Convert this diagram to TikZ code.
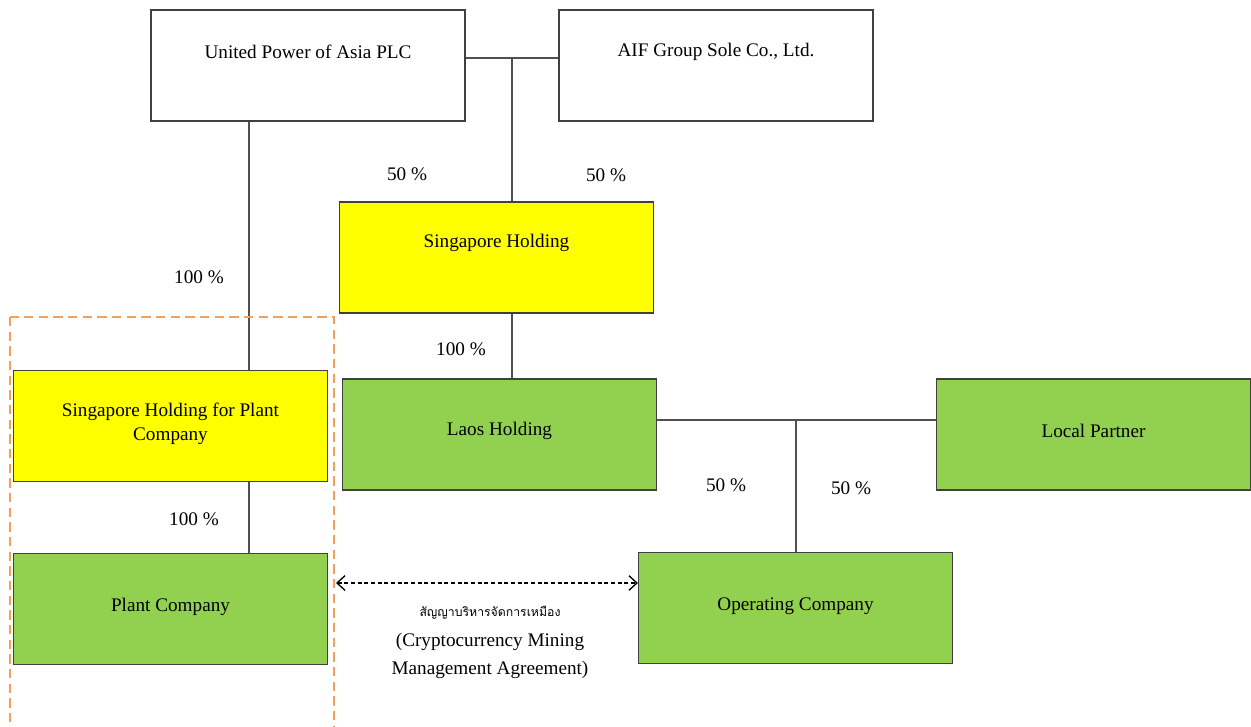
\documentclass[tikz,border=0pt]{standalone}
\usepackage{fontspec}
\setmainfont{Liberation Serif}
\newfontfamily\thaifont[Script=Thai]{Loma}
\usetikzlibrary{arrows.meta,calc}
\definecolor{ygold}{HTML}{FFFF00}
\definecolor{lgreen}{HTML}{92D050}
\definecolor{bordr}{HTML}{404040}
\definecolor{linec}{HTML}{505050}
\definecolor{orng}{HTML}{F4A05A}
\begin{document}
\begin{tikzpicture}[x=0.75pt,y=-0.75pt,
  box/.style={draw=bordr,line width=0.9pt,minimum width=314*0.75pt,minimum height=111*0.75pt,inner sep=0pt},
  wbox/.style={box,fill=white},
  ybox/.style={box,fill=ygold},
  gbox/.style={box,fill=lgreen},
  txt/.style={font=\fontsize{14.4}{18}\selectfont,inner sep=0pt,align=center},
  pct/.style={font=\fontsize{14.4}{18}\selectfont,inner sep=0pt},
  conn/.style={draw=linec,line width=0.9pt}]
\useasboundingbox (0,0) rectangle (1251,727);
\clip (0,0) rectangle (1251,727);
% boxes
\node[wbox] (upa) at (308,65.5) {};
\node[wbox] (aif) at (716,65.5) {};
\node[ybox] (sh) at (496.5,257.5) {};
\node[gbox] (laos) at (499.5,434.5) {};
\node[gbox] (local) at (1093.5,434.5) {};
\node[ybox] (shpc) at (170.5,426) {};
\node[gbox] (plant) at (170.5,609) {};
\node[gbox] (op) at (795.5,608) {};
% texts
\node[txt] (upaT) at (308,52) {United Power of Asia PLC};
\node[txt] (aifT) at (716,52) {AIF Group Sole Co., Ltd.};
\node[txt] (shT) at (496.5,243) {Singapore Holding};
\node[txt] (laosT) at (499.5,431) {Laos Holding};
\node[txt] (localT) at (1093.5,431) {Local Partner};
\node[txt] (shpcT) at (170.5,424) {Singapore Holding for Plant\\Company};
\node[txt] (plantT) at (170.5,607) {Plant Company};
\node[txt] (opT) at (795.5,606) {Operating Company};
% connectors
\coordinate (j1) at (512,58);
\draw[conn] (upa.east |- j1) -- (aif.west |- j1);
\draw[conn] (j1) -- (j1 |- sh.north);
\coordinate (j2) at (249,0);
\draw[conn] (j2 |- upa.south) -- (j2 |- shpc.north);
\draw[conn] (j2 |- shpc.south) -- (j2 |- plant.north);
\coordinate (j3) at (512,0);
\draw[conn] (j3 |- sh.south) -- (j3 |- laos.north);
\coordinate (j4) at (796,420);
\draw[conn] (laos.east |- j4) -- (local.west |- j4);
\draw[conn] (j4) -- (j4 |- op.north);
% percentages
\node[pct] (p1) at (407,174) {50 \%};
\node[pct] (p2) at (606,175) {50 \%};
\node[pct] (p3) at (199,277) {100 \%};
\node[pct] (p4) at (461,349) {100 \%};
\node[pct] (p5) at (194,519) {100 \%};
\node[pct] (p6) at (726,485) {50 \%};
\node[pct] (p7) at (851,488) {50 \%};
% agreement arrow
\coordinate (aL) at (336,583);
\draw[line width=0.9pt,dash pattern=on 3pt off 2pt,{Straight Barb[length=6pt,width=11pt,line width=1pt]}-{Straight Barb[length=6pt,width=11pt,line width=1pt]}] (aL) -- (aL -| op.west);
\node[inner sep=0pt,font=\thaifont\fontsize{9.2}{11}\selectfont] (thai) at (490,613) {สัญญาบริหารจัดการเหมือง};
\node[txt,font=\fontsize{14.4}{21}\selectfont] (agr) at (490,656) {(Cryptocurrency Mining\\Management Agreement)};
% orange dashed frame
\draw[orng,line width=2.2pt,dash pattern=on 7pt off 4pt] (10,317) rectangle (334,760);
\end{tikzpicture}
\end{document}
